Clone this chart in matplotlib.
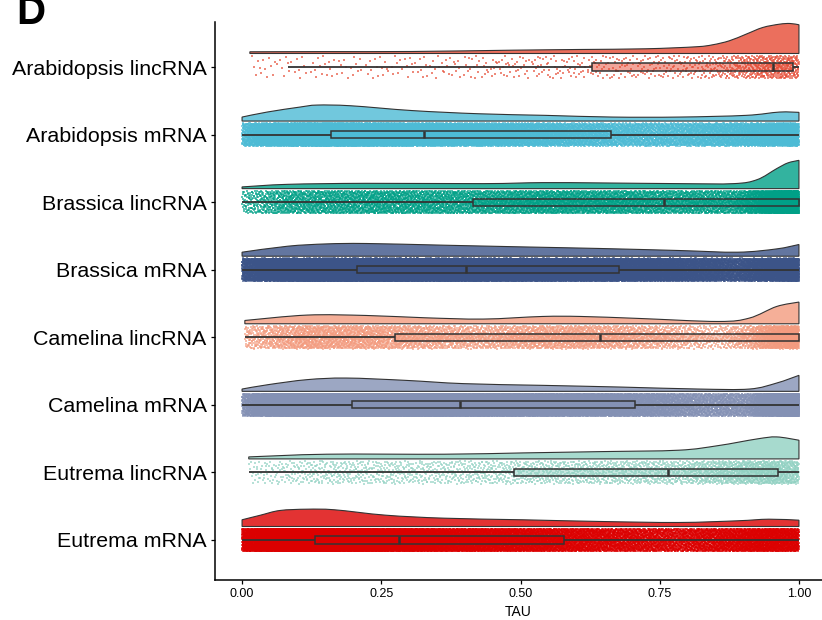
import numpy as np
import matplotlib
matplotlib.use("Agg")
import matplotlib.pyplot as plt
from matplotlib.patches import Rectangle, PathPatch
from matplotlib.path import Path

plt.rcParams["font.family"] = ["Liberation Sans", "DejaVu Sans"]

groups = ["Arabidopsis lincRNA", "Arabidopsis mRNA", "Brassica lincRNA", "Brassica mRNA",
          "Camelina lincRNA", "Camelina mRNA", "Eutrema lincRNA", "Eutrema mRNA"]
colors = ["#E64B35", "#4DBBD5", "#00A087", "#3C5488",
          "#F39B7F", "#8491B4", "#91D1C2", "#DC0000"]

# boxplot summaries of TAU per group
whisker_lo = [0.083, 0.000, 0.000, 0.000, 0.006, 0.000, 0.012, 0.000]
q1         = [0.628, 0.160, 0.414, 0.206, 0.274, 0.197, 0.489, 0.131]
median     = [0.953, 0.327, 0.758, 0.402, 0.642, 0.392, 0.765, 0.282]
q3         = [0.989, 0.662, 1.000, 0.677, 1.000, 0.706, 0.962, 0.579]
whisker_hi = [1.000, 1.000, 1.000, 1.000, 1.000, 1.000, 1.000, 1.000]

# number of genes per group
n_genes = [900, 20000, 9000, 30000, 6000, 30000, 2800, 20000]

# kernel density profiles (TAU grid, scaled density)
ara_linc_tau  = [0.014, 0.15, 0.305, 0.485, 0.605, 0.725, 0.815, 0.845, 0.875, 0.905, 0.935, 0.965, 0.984, 1.0]
ara_linc_dens = [1.7, 1.9, 2.0, 3.3, 4.0, 4.7, 6.7, 8.7, 12.7, 19.3, 26.0, 29.3, 30.0, 28.7]
ara_mrna_tau  = [0.0, 0.045, 0.104, 0.135, 0.195, 0.305, 0.425, 0.545, 0.665, 0.785, 0.905, 0.965, 1.0]
ara_mrna_dens = [4.0, 9.0, 14.0, 16.0, 15.3, 10.5, 7.3, 5.7, 4.0, 4.0, 5.7, 9.0, 8.7]
bra_linc_tau  = [0.0, 0.082, 0.223, 0.433, 0.539, 0.644, 0.784, 0.883, 0.925, 0.96, 0.98, 1.0]
bra_linc_dens = [1.7, 4.3, 5.3, 5.0, 6.0, 5.7, 5.0, 5.0, 9.0, 20.0, 25.7, 28.3]
bra_mrna_tau  = [0.0, 0.082, 0.152, 0.223, 0.363, 0.504, 0.644, 0.784, 0.89, 0.96, 1.0]
bra_mrna_dens = [4.0, 10.0, 12.3, 12.7, 11.0, 9.3, 7.7, 5.7, 4.0, 7.3, 11.7]
cam_linc_tau  = [0.005, 0.117, 0.223, 0.328, 0.433, 0.539, 0.609, 0.714, 0.855, 0.911, 0.96, 1.0]
cam_linc_dens = [3.3, 8.7, 8.3, 6.0, 4.7, 7.3, 7.3, 5.3, 2.3, 5.7, 17.3, 21.7]
cam_mrna_tau  = [0.0, 0.047, 0.117, 0.187, 0.293, 0.398, 0.539, 0.679, 0.82, 0.911, 0.96, 1.0]
cam_mrna_dens = [2.3, 6.7, 11.7, 13.3, 11.0, 7.7, 6.0, 4.3, 2.3, 2.3, 8.3, 16.0]
eut_linc_tau  = [0.012, 0.152, 0.363, 0.504, 0.644, 0.784, 0.855, 0.925, 0.96, 1.0]
eut_linc_dens = [2.0, 4.7, 4.7, 6.0, 7.3, 8.7, 13.3, 20.0, 22.0, 18.7]
eut_mrna_tau  = [0.0, 0.033, 0.068, 0.117, 0.166, 0.258, 0.363, 0.504, 0.644, 0.784, 0.89, 0.946, 1.0]
eut_mrna_dens = [6.7, 11.3, 16.0, 17.3, 16.7, 11.3, 8.3, 6.7, 5.0, 4.0, 5.7, 7.3, 6.3]

density_tau = [ara_linc_tau, ara_mrna_tau, bra_linc_tau, bra_mrna_tau,
               cam_linc_tau, cam_mrna_tau, eut_linc_tau, eut_mrna_tau]
density_val = [ara_linc_dens, ara_mrna_dens, bra_linc_dens, bra_mrna_dens,
               cam_linc_dens, cam_mrna_dens, eut_linc_dens, eut_mrna_dens]

xticks = [0.00, 0.25, 0.50, 0.75, 1.00]
xtick_labels = ["0.00", "0.25", "0.50", "0.75", "1.00"]

# layout of each raincloud row
cloud_offset = 0.20     # gap between group centre and density base
dens_to_y = 1 / 67.57   # density units -> y units
jitter_half = 0.168
box_half = 0.052
edge = "#333333"


def halton(count, base, start=17):
    """Low-discrepancy radical-inverse sequence used to spread the rain."""
    out = np.zeros(count)
    idx = np.arange(start, start + count)
    f = 1.0
    while np.any(idx > 0):
        f /= base
        out += f * (idx % base)
        idx //= base
    return out


def cloud_path(xs, ys, base):
    """Closed half-violin path: smooth Bezier top through the profile, flat base."""
    pts = np.column_stack([xs, ys])
    ext = np.vstack([pts[0], pts, pts[-1]])
    verts = [(xs[0], base), tuple(pts[0])]
    codes = [Path.MOVETO, Path.LINETO]
    for k in range(len(pts) - 1):
        p0, p1, p2, p3 = ext[k], ext[k + 1], ext[k + 2], ext[k + 3]
        c1 = p1 + (p2 - p0) / 6.0
        c2 = p2 - (p3 - p1) / 6.0
        verts += [tuple(c1), tuple(c2), tuple(p2)]
        codes += [Path.CURVE4] * 3
    verts += [(xs[-1], base), (xs[0], base)]
    codes += [Path.LINETO, Path.CLOSEPOLY]
    return Path(verts, codes)


fig = plt.figure(figsize=(8.22, 6.2), dpi=100)
ax = fig.add_axes([215 / 822, 1 - 580 / 620, 1 - 215 / 822, (580 - 22) / 620])

n = len(groups)

for i, name in enumerate(groups):
    yc = n - i
    col = colors[i]
    tau = np.asarray(density_tau[i])
    dens = np.asarray(density_val[i])

    # half violin (cloud)
    base = yc + cloud_offset
    path = cloud_path(tau, base + dens * dens_to_y, base)
    ax.add_patch(PathPatch(path, facecolor=col, alpha=0.8, edgecolor="none", zorder=2))
    ax.add_patch(PathPatch(path, facecolor="none", edgecolor=edge, lw=0.8, zorder=2.1))

    # rain: genes placed on the quantiles of the density, spread vertically
    grid = np.linspace(tau[0], tau[-1], 3000)
    g_d = np.interp(grid, tau, dens)
    cdf = np.cumsum(g_d)
    cdf = (cdf - cdf[0]) / (cdf[-1] - cdf[0])
    p = halton(n_genes[i], 2, start=17 + i)
    jy = halton(n_genes[i], 3, start=17 + i) * 2 - 1
    px = np.interp(p, cdf, grid)
    ax.scatter(px, yc + jy * jitter_half, s=4.0, marker="s", color=col,
               alpha=0.65, linewidths=0, zorder=3, rasterized=True)

    # boxplot
    ax.plot([whisker_lo[i], q1[i]], [yc, yc], color=edge, lw=1.3, zorder=4,
            solid_capstyle="butt")
    ax.plot([q3[i], whisker_hi[i]], [yc, yc], color=edge, lw=1.3, zorder=4,
            solid_capstyle="butt")
    ax.add_patch(Rectangle((q1[i], yc - box_half), q3[i] - q1[i], 2 * box_half,
                           facecolor=col, alpha=0.5, edgecolor="none", zorder=4))
    ax.add_patch(Rectangle((q1[i], yc - box_half), q3[i] - q1[i], 2 * box_half,
                           facecolor="none", edgecolor=edge, lw=1.1, zorder=4.1))
    ax.plot([median[i], median[i]], [yc - box_half, yc + box_half], color=edge,
            lw=1.8, zorder=4.2, solid_capstyle="butt")

ax.set_xlim(-0.0486, 1.0414)
ax.set_ylim(0.408, 8.666)
ax.set_yticks(np.arange(n, 0, -1))
ax.set_yticklabels(groups, fontsize=15.4, color="black")
ax.set_xticks(xticks)
ax.set_xticklabels(xtick_labels, fontsize=9, color="black")
ax.set_xlabel("TAU", fontsize=10, labelpad=3)
for side in ["top", "right"]:
    ax.spines[side].set_visible(False)
for side in ["left", "bottom"]:
    ax.spines[side].set_linewidth(1.1)
ax.tick_params(axis="both", length=3, width=0.9, color="black")
ax.tick_params(axis="y", pad=3)
ax.tick_params(axis="x", pad=3)

fig.text(16 / 822, 1 - 24 / 620, "D", fontsize=29, fontweight="bold",
         ha="left", va="baseline")

fig.savefig("out.png", dpi=100)
